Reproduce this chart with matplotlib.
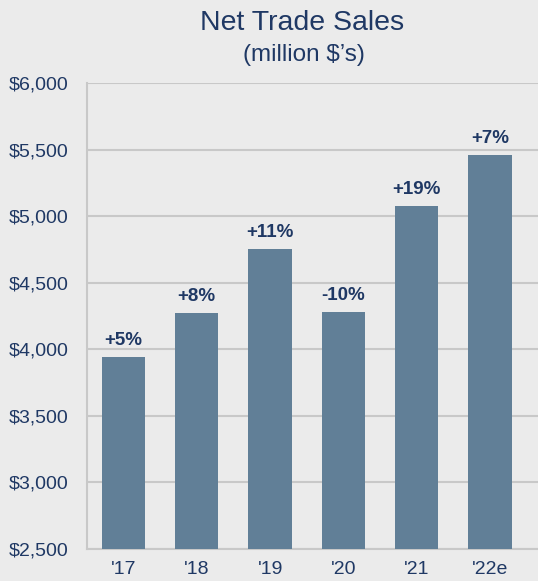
import matplotlib
matplotlib.use('Agg')
import matplotlib.pyplot as plt

# Net trade sales, million $
years = ["'17", "'18", "'19", "'20", "'21", "'22e"]
sales = [3942, 4273, 4754, 4280, 5077, 5460]
growth = ['+5%', '+8%', '+11%', '-10%', '+19%', '+7%']
yticks = [2500, 3000, 3500, 4000, 4500, 5000, 5500, 6000]

navy = '#1f3864'
bar_color = '#617f97'
grid_color = '#c8c8c8'
bg = '#ebebeb'

plt.rcParams['font.family'] = ['Liberation Sans', 'DejaVu Sans']

fig = plt.figure(figsize=(5.38, 5.81), dpi=100, facecolor=bg)
ax = fig.add_axes([87 / 538, 1 - 549 / 581, 1 - 87 / 538, (549 - 83) / 581])
ax.set_facecolor(bg)

x = list(range(len(years)))
ax.bar(x, sales, width=0.59, color=bar_color, zorder=3)
for xi, v, g in zip(x, sales, growth):
    ax.text(xi, v + 60, g, ha='center', va='bottom', fontsize=13.5,
            fontweight='bold', color=navy)

ax.set_ylim(2500, 6000)
ax.set_xlim(-0.498, 5.655)
ax.set_yticks(yticks)
ax.set_yticklabels(['${:,}'.format(t) for t in yticks], fontsize=14, color=navy)
ax.set_xticks(x)
ax.set_xticklabels(years, fontsize=14, color=navy)
ax.tick_params(axis='y', length=0, pad=13.5)
ax.tick_params(axis='x', length=0, pad=9)
ax.grid(axis='y', color=grid_color, linewidth=1.5, zorder=0)
for s in ['top', 'right']:
    ax.spines[s].set_visible(False)
for s in ['left', 'bottom']:
    ax.spines[s].set_color(grid_color)
    ax.spines[s].set_linewidth(1.5)

fig.text(302 / 538, 1 - 23 / 581, 'Net Trade Sales', ha='center', va='center',
         fontsize=20.5, color=navy)
fig.text(304 / 538, 1 - 55 / 581, "(million $\u2019s)", ha='center', va='center',
         fontsize=17.5, color=navy)

fig.savefig('out.png', dpi=100, facecolor=bg)
